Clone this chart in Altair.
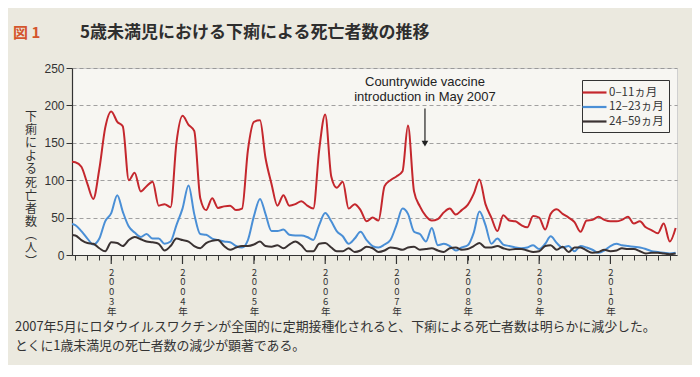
import altair as alt
import pandas as pd

# ---------------- data ----------------
series_names = ["0–11ヵ月", "12–23ヵ月", "24–59ヵ月"]
series_colors = ["#c4272d", "#4a8fd6", "#3a3232"]

# monthly values, Jun 2002 ... Dec 2010
red_2002 = [125, 124, 118, 95, 75, 115, 170]
red_2003 = [192, 178, 172, 100, 110, 85, 92, 98, 66, 68, 64, 150]
red_2004 = [186, 174, 166, 76, 60, 76, 63, 65, 66, 60, 62, 140]
red_2005 = [178, 180, 130, 95, 66, 80, 66, 68, 72, 66, 62, 140]
red_2006 = [188, 105, 90, 98, 62, 68, 60, 45, 50, 46, 92, 100]
red_2007 = [105, 112, 173, 85, 65, 52, 46, 48, 57, 62, 54, 60]
red_2008 = [67, 82, 101, 68, 50, 32, 53, 46, 45, 40, 37, 52]
red_2009 = [50, 34, 55, 61, 55, 50, 44, 31, 46, 47, 51, 47]
red_2010 = [45, 45, 47, 51, 42, 45, 37, 33, 29, 42, 18, 36]

blue_2002 = [42, 40, 32, 22, 14, 22, 45]
blue_2003 = [56, 80, 58, 38, 30, 24, 28, 22, 22, 15, 18, 40]
blue_2004 = [62, 93, 55, 28, 27, 22, 20, 18, 17, 12, 10, 20]
blue_2005 = [52, 75, 55, 32, 32, 34, 27, 26, 26, 24, 20, 40]
blue_2006 = [56, 45, 32, 25, 15, 22, 31, 20, 12, 10, 14, 20]
blue_2007 = [40, 62, 55, 31, 28, 18, 36, 13, 15, 12, 6, 10]
blue_2008 = [13, 30, 58, 40, 15, 22, 14, 12, 10, 9, 10, 13]
blue_2009 = [8, 15, 25, 16, 10, 12, 5, 12, 10, 7, 3, 6]
blue_2010 = [12, 15, 13, 12, 11, 10, 8, 5, 4, 3, 2, 3]

black_2002 = [27, 26, 20, 16, 15, 9, 5]
black_2003 = [17, 16, 12, 20, 24, 21, 18, 17, 15, 6, 12, 22]
black_2004 = [20, 18, 12, 9, 16, 19, 20, 12, 7, 10, 12, 12]
black_2005 = [14, 18, 12, 11, 13, 9, 14, 18, 13, 5, 5, 15]
black_2006 = [16, 10, 5, 5, 9, 4, 6, 11, 9, 4, 6, 10]
black_2007 = [9, 7, 10, 11, 7, 8, 9, 6, 4, 9, 10, 7]
black_2008 = [8, 12, 16, 10, 10, 12, 9, 7, 8, 8, 6, 4]
black_2009 = [5, 12, 13, 7, 11, 4, 10, 10, 6, 3, 4, 7]
black_2010 = [5, 6, 9, 8, 8, 5, 2, 3, 3, 2, 1, 2]

red = red_2002 + red_2003 + red_2004 + red_2005 + red_2006 + red_2007 + red_2008 + red_2009 + red_2010
blue = blue_2002 + blue_2003 + blue_2004 + blue_2005 + blue_2006 + blue_2007 + blue_2008 + blue_2009 + blue_2010
black = black_2002 + black_2003 + black_2004 + black_2005 + black_2006 + black_2007 + black_2008 + black_2009 + black_2010

months = pd.date_range("2002-06-01", periods=len(red), freq="MS").strftime("%Y-%m-%d").tolist()
years = [2003, 2004, 2005, 2006, 2007, 2008, 2009, 2010]

title_text = "5歳未満児における下痢による死亡者数の推移"
fig_label = "図 1"
y_title = ["下", "痢", "に", "よ", "る", "死", "亡", "者", "数", "︵", "人", "︶"]
caption_1 = "2007年5月にロタウイルスワクチンが全国的に定期接種化されると、下痢による死亡者数は明らかに減少した。"
caption_2 = "とくに1歳未満児の死亡者数の減少が顕著である。"
annot_lines = ["Countrywide vaccine", "introduction in May 2007"]
annot_date = "2007-05-27"

# ---------------- tables ----------------
rows = []
for name, vals in zip(series_names, [red, blue, black]):
    for d, v in zip(months, vals):
        rows.append({"date": d, "value": v, "series": name})
df = pd.DataFrame(rows)

annot_df = pd.DataFrame({"date": [annot_date], "top": [239], "a0": [196], "a1": [150], "tip": [149]})
year_df = pd.DataFrame({"date": [f"{y}-01-01" for y in years]})

tick_values = [alt.DateTime(year=y, month=mo, date=1)
               for y in range(2002, 2011) for mo in (1, 3, 5, 7, 9, 11)
               if not (y == 2002 and mo < 7)]

W, H = 605, 187
JP = "Noto Sans CJK JP"
LAT = "Liberation Sans"

x_scale = alt.Scale(domain=[alt.DateTime(year=2002, month=6, date=14),
                            alt.DateTime(year=2010, month=12, date=8)])
y_scale = alt.Scale(domain=[0, 250], nice=False)

x_axis = alt.Axis(
    values=tick_values, title=None, grid=False,
    domainColor="#333", domainWidth=1.2, tickColor="#333", tickWidth=1, tickSize=5,
    labelExpr="month(datum.value) == 0 ? split(timeFormat(datum.value, '%Y') + '年', '') : ''",
    labelFont=JP, labelFontSize=9.5, labelLineHeight=9.8, labelBaseline="top",
    labelPadding=7, labelAngle=0, labelColor="#333", labelOverlap=False, labelFlush=False,
)

y_axis = alt.Axis(
    values=[0, 50, 100, 150, 200, 250], grid=True, gridDash=[4, 3], gridColor="#8a8a8a",
    gridWidth=0.8, domainColor="#333", domainWidth=1.2, tickColor="#333", tickSize=6,
    labelFont=LAT, labelFontSize=12, labelColor="#333", labelPadding=2, labelOverlap=False,
    title=y_title, titleAngle=0, titleAlign="center", titleBaseline="top",
    titleX=-41.5, titleY=43, titleLineHeight=13.2, titleFont=JP, titleFontSize=12,
    titleFontWeight="normal", titleColor="#333",
)

X = alt.X("date:T", scale=x_scale, axis=x_axis)


def Y(field):
    return alt.Y(field, scale=y_scale, axis=y_axis)


lines = alt.Chart(df).mark_line(interpolate="monotone", strokeWidth=2, clip=True).encode(
    x=X, y=Y("value:Q"),
    color=alt.Color("series:N", sort=series_names,
                    scale=alt.Scale(domain=series_names, range=series_colors),
                    legend=alt.Legend(
                        title=None, orient="none", legendX=510, legendY=12,
                        symbolType="M-2,0H2", symbolStrokeWidth=2.2, symbolSize=144,
                        labelFont=JP, labelFontSize=11.5, labelColor="#333",
                        padding=5, rowPadding=1.5, labelOffset=7,
                        strokeColor="#333", fillColor="#f7f6f2")),
    detail="series:N",
)

# longer ticks at each January (major ticks of the time axis)
major_ticks = alt.Chart(year_df).mark_rule(color="#333", strokeWidth=1.2, clip=False).encode(
    x=X, y=alt.value(H), y2=alt.value(H + 9))

annot_text = alt.Chart(annot_df).mark_text(
    text=annot_lines, font=LAT, fontSize=13, color="#222", baseline="top",
    align="center", lineHeight=15,
).encode(x=X, y=Y("top:Q"))

annot_rule = alt.Chart(annot_df).mark_rule(color="#222", strokeWidth=1.2).encode(
    x=X, y=Y("a0:Q"), y2="a1:Q")

annot_head = alt.Chart(annot_df).mark_point(
    shape="triangle-down", filled=True, color="#222", size=45, opacity=1
).encode(x=X, y=Y("tip:Q"))

one = pd.DataFrame({"k": [0]})
t_fig = alt.Chart(one).mark_text(text=fig_label, font=JP, fontSize=15, fontWeight="bold",
                                 color="#d4552c", align="left", baseline="middle").encode(
    x=alt.value(-59), y=alt.value(-35))
t_title = alt.Chart(one).mark_text(text=title_text, font=JP, fontSize=17, fontWeight="bold",
                                   color="#2e2e2e", align="left", baseline="middle").encode(
    x=alt.value(8), y=alt.value(-35))
t_cap1 = alt.Chart(one).mark_text(text=caption_1, font=JP, fontSize=12.9,
                                  color="#333", align="left", baseline="middle").encode(
    x=alt.value(-57), y=alt.value(259))
t_cap2 = alt.Chart(one).mark_text(text=caption_2, font=JP, fontSize=12.9,
                                  color="#333", align="left", baseline="middle").encode(
    x=alt.value(-57), y=alt.value(278))

chart = alt.layer(lines, major_ticks, annot_text, annot_rule, annot_head,
                  t_fig, t_title, t_cap1, t_cap2).properties(
    width=W, height=H,
    autosize=alt.AutoSizeParams(type="none"),
    padding={"left": 64, "top": 60, "right": 15, "bottom": 110},
    background="#ebe9df",
).configure_view(fill="#f7f6f2", stroke="#d0d0d0")

chart.save("out.html", embed_options={"renderer": "svg", "actions": False})
